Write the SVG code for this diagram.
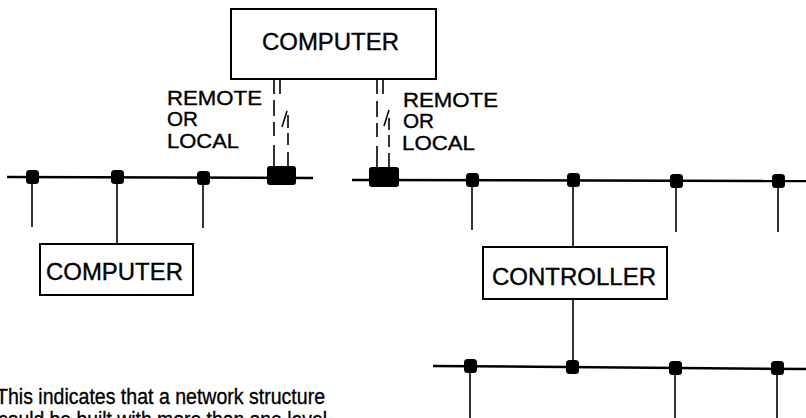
<svg xmlns="http://www.w3.org/2000/svg" width="806" height="418" viewBox="0 0 806 418">
<style>
.box{fill:#fff;stroke:#000;stroke-width:2}
.t{font-family:"Liberation Sans",Arial,sans-serif;fill:#000;stroke:#000;stroke-width:0.35}
.bus{stroke:#000;stroke-width:2.5;fill:none}
.drop{stroke:#000;stroke-width:1.6;fill:none}
.dash{stroke:#000;stroke-width:1.6;fill:none}
.tap{fill:#000}
</style>
<rect width="806" height="418" fill="#fff"/>

<g id="connectors">
  <line class="bus" x1="7" y1="177" x2="313" y2="178"/>
  <line class="bus" x1="352" y1="180" x2="806" y2="181"/>
  <line class="bus" x1="433" y1="366" x2="806" y2="369"/>
  <line class="drop" x1="32" y1="177" x2="32" y2="227"/>
  <line class="drop" x1="117" y1="177" x2="117" y2="244"/>
  <line class="drop" x1="203" y1="178" x2="203" y2="228"/>
  <line class="drop" x1="472" y1="180" x2="472" y2="230"/>
  <line class="drop" x1="573" y1="180" x2="573" y2="247"/>
  <line class="drop" x1="676" y1="181" x2="676" y2="232"/>
  <line class="drop" x1="778" y1="181" x2="778" y2="232"/>
  <line class="drop" x1="573" y1="299" x2="573" y2="367"/>
  <line class="drop" x1="470" y1="366" x2="470" y2="418"/>
  <line class="drop" x1="675" y1="368" x2="675" y2="418"/>
  <line class="drop" x1="777" y1="369" x2="777" y2="418"/>
  <g id="link-left">
    <path class="dash" d="M274 80V94M274 100V116M274 122V136M274 145V166"/>
    <path class="dash" d="M280 80V94"/>
    <path class="dash" d="M282 127L287 111"/>
    <path class="dash" d="M288 115V128M288 133V145M288 152V166"/>
  </g>
  <g id="link-right">
    <path class="dash" d="M377 80V94M377 101V117M377 123V137M377 146V167"/>
    <path class="dash" d="M383 80V94"/>
    <path class="dash" d="M384 126L389 110"/>
    <path class="dash" d="M389 118V130M389 135V147M389 153V167"/>
  </g>
</g>

<g id="computer-top">
  <rect class="box" x="231" y="9" width="205" height="70"/>
  <text class="t" x="262" y="50" font-size="23.5" textLength="137" lengthAdjust="spacingAndGlyphs">COMPUTER</text>
</g>

<g id="computer-left">
  <rect class="box" x="40" y="244" width="153" height="51"/>
  <text class="t" x="46" y="280" font-size="23.5" textLength="137" lengthAdjust="spacingAndGlyphs">COMPUTER</text>
</g>

<g id="controller">
  <rect class="box" x="483" y="247" width="184" height="52"/>
  <text class="t" x="492" y="285" font-size="23.5" textLength="164" lengthAdjust="spacingAndGlyphs">CONTROLLER</text>
</g>

<g id="coupler-left">
  <rect class="tap" x="267" y="166" width="29" height="19" rx="3"/>
</g>
<g id="coupler-right">
  <rect class="tap" x="369" y="167" width="30" height="20" rx="3"/>
</g>

<g id="taps">
  <rect class="tap" x="26" y="170" width="13" height="14" rx="3.5"/>
  <rect class="tap" x="111" y="170" width="13" height="14" rx="3.5"/>
  <rect class="tap" x="197" y="171" width="13" height="14" rx="3.5"/>
  <rect class="tap" x="466" y="173" width="13" height="14" rx="3.5"/>
  <rect class="tap" x="567" y="173" width="13" height="14" rx="3.5"/>
  <rect class="tap" x="670" y="174" width="13" height="14" rx="3.5"/>
  <rect class="tap" x="772" y="174" width="13" height="14" rx="3.5"/>
  <rect class="tap" x="464" y="359" width="13" height="14" rx="3.5"/>
  <rect class="tap" x="566" y="360" width="13" height="14" rx="3.5"/>
  <rect class="tap" x="669" y="361" width="13" height="14" rx="3.5"/>
  <rect class="tap" x="771" y="361" width="13" height="14" rx="3.5"/>
</g>

<g id="label-left">
  <text class="t" x="167" y="105" font-size="20" textLength="95" lengthAdjust="spacingAndGlyphs">REMOTE</text>
  <text class="t" x="167" y="126" font-size="20" textLength="31" lengthAdjust="spacingAndGlyphs">OR</text>
  <text class="t" x="167" y="148" font-size="20" textLength="72" lengthAdjust="spacingAndGlyphs">LOCAL</text>
</g>

<g id="label-right">
  <text class="t" x="403" y="107" font-size="20" textLength="95" lengthAdjust="spacingAndGlyphs">REMOTE</text>
  <text class="t" x="403" y="128" font-size="20" textLength="31" lengthAdjust="spacingAndGlyphs">OR</text>
  <text class="t" x="402" y="150" font-size="20" textLength="73" lengthAdjust="spacingAndGlyphs">LOCAL</text>
</g>

<g id="caption">
  <text class="t" x="-4" y="404" font-size="22" textLength="329" lengthAdjust="spacingAndGlyphs">This indicates that a network structure</text>
  <text class="t" x="-2" y="427" font-size="22" textLength="329" lengthAdjust="spacingAndGlyphs">could be built with more than one level</text>
</g>
</svg>
